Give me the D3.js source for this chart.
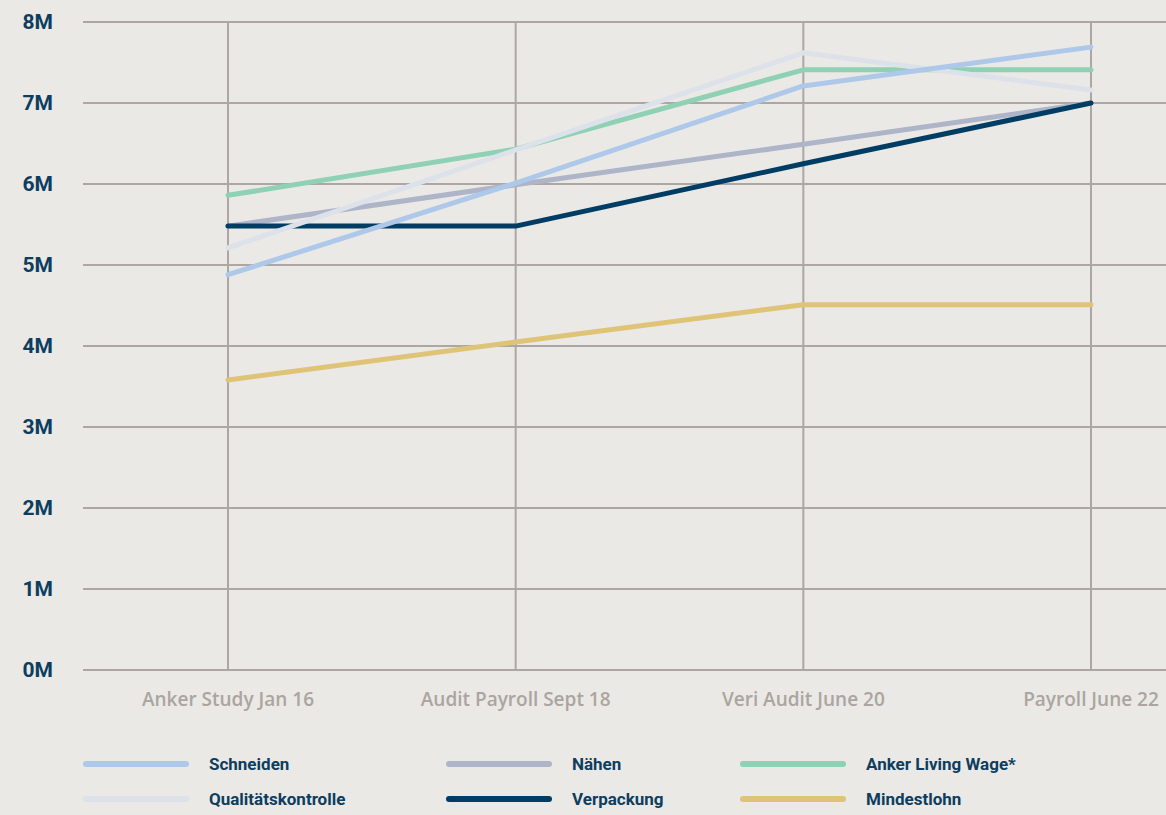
<!DOCTYPE html>
<html><head><meta charset="utf-8">
<script src="https://cdn.jsdelivr.net/npm/d3@7"></script>
<style>
html,body{margin:0;padding:0;background:#ebe9e5;}
svg{display:block;font-family:Roboto, "Noto Sans", sans-serif;}
</style></head>
<body>
<svg id="chart" width="1166" height="815"></svg>
<script>
const categories = ["Anker Study Jan 16","Audit Payroll Sept 18","Veri Audit June 20","Payroll June 22"];
const seriesNames = ["Schneiden","Nähen","Anker Living Wage*","Qualitätskontrolle","Verpackung","Mindestlohn"];
const schneiden = [4.88, 6.01, 7.21, 7.69];
const naehen = [5.48, 5.99, 6.49, 7.0];
const livingWage = [5.86, 6.43, 7.41, 7.41];
const qualitaet = [5.21, 6.42, 7.62, 7.16];
const verpackung = [5.48, 5.48, 6.25, 7.0];
const mindestlohn = [3.58, 4.05, 4.51, 4.51];
const yTicks = [0,1,2,3,4,5,6,7,8];
const colors = ["#aec8ea","#aeb5c8","#8fd1b4","#dce1ea","#003d64","#dfc478"];

const values = [schneiden, naehen, livingWage, qualitaet, verpackung, mindestlohn];
const series = seriesNames.map((n,i)=>({name:n, values:values[i], color:colors[i]}));

const svg = d3.select("#chart");
const x = d3.scalePoint().domain(categories).range([228,1091]);
const y = d3.scaleLinear().domain([0,8]).range([670,22]);

svg.append("g").selectAll("line").data(yTicks).join("line")
  .attr("x1",83).attr("x2",1166)
  .attr("y1",d=>y(d)).attr("y2",d=>y(d))
  .attr("stroke","#aca7a2").attr("stroke-width",2);
svg.append("g").selectAll("line").data(categories).join("line")
  .attr("x1",d=>x(d)).attr("x2",d=>x(d))
  .attr("y1",y(8)).attr("y2",y(0))
  .attr("stroke","#aca7a2").attr("stroke-width",2);

svg.append("g").selectAll("text").data(yTicks).join("text")
  .attr("x",53).attr("y",d=>y(d)).attr("dy","0.35em")
  .attr("text-anchor","end")
  .attr("font-size",21).attr("font-weight",700).attr("fill","#0d3d5f")
  .text(d=>d+"M");

svg.append("g").selectAll("text").data(categories).join("text")
  .attr("x",d=>x(d)).attr("y",706)
  .attr("text-anchor","middle")
  .attr("font-family","'Open Sans', sans-serif")
  .attr("font-size",19).attr("font-weight",600).attr("fill","#aaa5a0")
  .text(d=>d);

const line = d3.line().x((d,i)=>x(categories[i])).y(d=>y(d));
const drawOrder = [5,1,4,2,3,0];
svg.append("g").selectAll("path").data(drawOrder.map(i=>series[i])).join("path")
  .attr("d",d=>line(d.values))
  .attr("fill","none").attr("stroke",d=>d.color)
  .attr("stroke-width",5).attr("stroke-linecap","round").attr("stroke-linejoin","round");

const colX = [83,446,740];
const rowY = [764,799];
const lg = svg.append("g").selectAll("g").data(series).join("g")
  .attr("transform",(d,i)=>`translate(${colX[i%3]},${rowY[Math.floor(i/3)]})`);
lg.append("line").attr("x1",3).attr("x2",103).attr("y1",0).attr("y2",0)
  .attr("stroke",d=>d.color).attr("stroke-width",6).attr("stroke-linecap","round");
lg.append("text").attr("x",126).attr("y",0).attr("dy","0.35em")
  .attr("font-size",17).attr("font-weight",700).attr("fill","#0d3d5f")
  .text(d=>d.name);
</script>
</body></html>
